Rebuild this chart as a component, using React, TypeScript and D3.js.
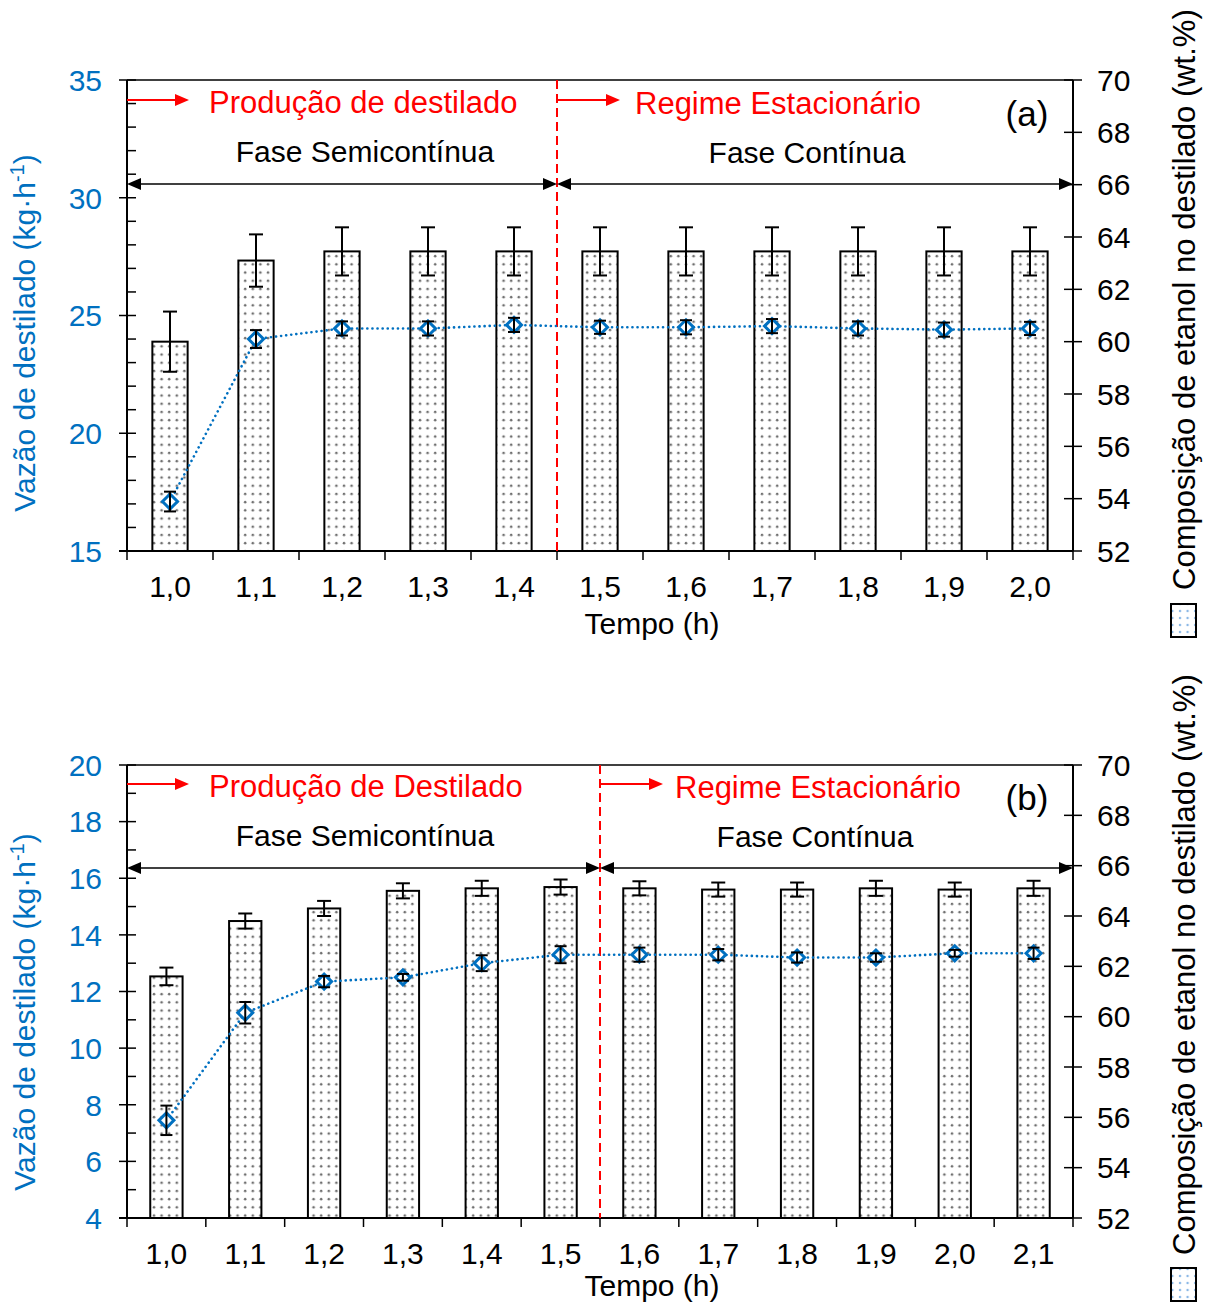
import React from "react";
import * as d3 from "d3";

// Panel (a)
const timesA = ["1,0", "1,1", "1,2", "1,3", "1,4", "1,5", "1,6", "1,7", "1,8", "1,9", "2,0"];
const compA = [60.0, 63.1, 63.45, 63.45, 63.45, 63.45, 63.45, 63.45, 63.45, 63.45, 63.45];
const compErrA = [1.15, 1.0, 0.92, 0.92, 0.92, 0.92, 0.92, 0.92, 0.92, 0.92, 0.92];
const flowA = [17.1, 24.0, 24.45, 24.45, 24.6, 24.5, 24.5, 24.55, 24.45, 24.4, 24.45];
const flowErrA = [0.42, 0.38, 0.3, 0.3, 0.3, 0.28, 0.3, 0.3, 0.3, 0.3, 0.28];
const leftTicksA = [15, 20, 25, 30, 35];

// Panel (b)
const timesB = ["1,0", "1,1", "1,2", "1,3", "1,4", "1,5", "1,6", "1,7", "1,8", "1,9", "2,0", "2,1"];
const compB = [61.6, 63.8, 64.3, 65.0, 65.1, 65.15, 65.1, 65.05, 65.05, 65.1, 65.05, 65.1];
const compErrB = [0.35, 0.3, 0.3, 0.3, 0.3, 0.3, 0.28, 0.28, 0.28, 0.3, 0.28, 0.3];
const flowB = [7.45, 11.25, 12.35, 12.5, 13.0, 13.3, 13.3, 13.3, 13.2, 13.2, 13.35, 13.35];
const flowErrB = [0.52, 0.38, 0.2, 0.12, 0.28, 0.3, 0.25, 0.2, 0.18, 0.15, 0.12, 0.2];
const leftTicksB = [4, 6, 8, 10, 12, 14, 16, 18, 20];

const rightTicks = [52, 54, 56, 58, 60, 62, 64, 66, 68, 70];

const BLUE = "#0070C0";
const RED = "#FF0000";
const FONT = "'Liberation Sans', Arial, Helvetica, sans-serif";

type PanelProps = {
  top: number;
  bottom: number;
  times: string[];
  comp: number[];
  compErr: number[];
  flow: number[];
  flowErr: number[];
  leftTicks: number[];
  leftDomain: [number, number];
  splitIndex: number;
  labels: {
    prod: string;
    tag: string;
    semiX: number;
    contX: number;
    regX: number;
    yTop: number;
    xTitleDy: number;
  };
};

const X0 = 127;
const X1 = 1073;

function Arrow({ x1, x2, y, color, w }: { x1: number; x2: number; y: number; color: string; w: number }) {
  const dir = Math.sign(x2 - x1);
  const hl = 14;
  const hw = 6;
  return (
    <g>
      <line x1={x1} x2={x2 - dir * hl} y1={y} y2={y} stroke={color} strokeWidth={w} />
      <path d={`M${x2},${y} L${x2 - dir * hl},${y - hw} L${x2 - dir * hl},${y + hw} Z`} fill={color} />
    </g>
  );
}

function DoubleArrow({ x1, x2, y }: { x1: number; x2: number; y: number }) {
  const hl = 14;
  const hw = 6;
  return (
    <g>
      <line x1={x1 + hl} x2={x2 - hl} y1={y} y2={y} stroke="#000" strokeWidth={1.3} />
      <path d={`M${x1},${y} L${x1 + hl},${y - hw} L${x1 + hl},${y + hw} Z`} fill="#000" />
      <path d={`M${x2},${y} L${x2 - hl},${y - hw} L${x2 - hl},${y + hw} Z`} fill="#000" />
    </g>
  );
}

function Panel(p: PanelProps) {
  const x = d3.scaleBand<string>().domain(p.times).range([X0, X1]).padding(0);
  const bw = x.bandwidth();
  const barW = bw * 0.41;
  const yL = d3.scaleLinear().domain(p.leftDomain).range([p.bottom, p.top]);
  const yR = d3.scaleLinear().domain([52, 70]).range([p.bottom, p.top]);
  const cx = (t: string) => (x(t) as number) + bw / 2;

  const minorL: number[] = [];
  for (let v = p.leftDomain[0]; v < p.leftDomain[1]; v += 1) {
    if (!p.leftTicks.includes(v)) minorL.push(v);
  }

  const line = d3
    .line<number>()
    .x((_, i) => cx(p.times[i]))
    .y((d) => yL(d));

  const splitX = X0 + bw * p.splitIndex;
  const boundaries = d3.range(p.times.length + 1).map((i) => X0 + bw * i);
  const L = p.labels;

  return (
    <g>
      {/* bars: ethanol composition, right axis */}
      {p.comp.map((v, i) => (
        <rect
          key={"b" + i}
          x={cx(p.times[i]) - barW / 2}
          y={yR(v)}
          width={barW}
          height={p.bottom - yR(v)}
          fill="url(#dots)"
          stroke="#000"
          strokeWidth={2}
        />
      ))}
      {p.comp.map((v, i) => {
        const c = cx(p.times[i]);
        const a = yR(v + p.compErr[i]);
        const b = yR(v - p.compErr[i]);
        return (
          <g key={"be" + i} stroke="#000" strokeWidth={2}>
            <line x1={c} x2={c} y1={a} y2={b} />
            <line x1={c - 7} x2={c + 7} y1={a} y2={a} />
            <line x1={c - 7} x2={c + 7} y1={b} y2={b} />
          </g>
        );
      })}

      {/* frame and axes */}
      <line x1={X0} x2={X1} y1={p.top} y2={p.top} stroke="#000" strokeWidth={1.5} />
      <line x1={X0} x2={X0} y1={p.top} y2={p.bottom} stroke="#000" strokeWidth={2} />
      <line x1={X1} x2={X1} y1={p.top} y2={p.bottom} stroke="#000" strokeWidth={2} />
      <line x1={X0 - 8} x2={X1} y1={p.bottom} y2={p.bottom} stroke="#000" strokeWidth={2} />
      {boundaries.map((b, i) => (
        <line key={"xt" + i} x1={b} x2={b} y1={p.bottom} y2={p.bottom + 9} stroke="#000" strokeWidth={1.5} />
      ))}
      {p.leftTicks.map((t) => (
        <g key={"lt" + t}>
          <line x1={X0 - 8} x2={X0 + 9} y1={yL(t)} y2={yL(t)} stroke="#000" strokeWidth={1.5} />
          <text x={X0 - 25} y={yL(t)} dy="0.36em" textAnchor="end" fill={BLUE} fontSize={30}>
            {t}
          </text>
        </g>
      ))}
      {minorL.map((t) => (
        <line key={"lm" + t} x1={X0} x2={X0 + 9} y1={yL(t)} y2={yL(t)} stroke="#000" strokeWidth={1.5} />
      ))}
      {rightTicks.map((t) => (
        <g key={"rt" + t}>
          <line x1={X1 - 9} x2={X1 + 9} y1={yR(t)} y2={yR(t)} stroke="#000" strokeWidth={1.5} />
          <text x={X1 + 24} y={yR(t)} dy="0.36em" textAnchor="start" fill="#000" fontSize={30}>
            {t}
          </text>
        </g>
      ))}
      {p.times.map((t) => (
        <text key={"xl" + t} x={cx(t)} y={p.bottom + 46} textAnchor="middle" fontSize={30} fill="#000">
          {t}
        </text>
      ))}
      <text x={652} y={p.bottom + L.xTitleDy} textAnchor="middle" fontSize={30} fill="#000">
        Tempo (h)
      </text>

      {/* phase split */}
      <line
        x1={splitX}
        x2={splitX}
        y1={p.top}
        y2={p.bottom}
        stroke={RED}
        strokeWidth={2}
        strokeDasharray="9,5"
      />
      <Arrow x1={X0} x2={X0 + 62} y={L.yTop + 20} color={RED} w={2} />
      <Arrow x1={splitX} x2={splitX + 63} y={L.yTop + 20} color={RED} w={2} />
      <text x={209} y={L.yTop + 33} fill={RED} fontSize={31}>
        {L.prod}
      </text>
      <text x={L.regX} y={L.yTop + 34} fill={RED} fontSize={31}>
        Regime Estacionário
      </text>
      <text x={L.semiX} y={L.yTop + 82} textAnchor="middle" fill="#000" fontSize={30}>
        Fase Semicontínua
      </text>
      <text x={L.contX} y={L.yTop + 83} textAnchor="middle" fill="#000" fontSize={30}>
        Fase Contínua
      </text>
      <text x={1027} y={L.yTop + 46} textAnchor="middle" fill="#000" fontSize={35}>
        {L.tag}
      </text>
      <DoubleArrow x1={X0} x2={splitX} y={L.yTop + 104} />
      <DoubleArrow x1={splitX} x2={X1} y={L.yTop + 104} />

      {/* distillate flow: dotted line with diamond markers, left axis */}
      <path
        d={line(p.flow) || ""}
        fill="none"
        stroke={BLUE}
        strokeWidth={2.6}
        strokeDasharray="0.1,5"
        strokeLinecap="round"
      />
      {p.flow.map((v, i) => {
        const c = cx(p.times[i]);
        const y = yL(v);
        const r = 7.5;
        return (
          <path
            key={"m" + i}
            d={`M${c},${y - r} L${c + r},${y} L${c},${y + r} L${c - r},${y} Z`}
            fill="#fff"
            stroke={BLUE}
            strokeWidth={3}
          />
        );
      })}
      {p.flow.map((v, i) => {
        const c = cx(p.times[i]);
        const a = yL(v + p.flowErr[i]);
        const b = yL(v - p.flowErr[i]);
        return (
          <g key={"fe" + i} stroke="#000" strokeWidth={2}>
            <line x1={c} x2={c} y1={a} y2={b} />
            <line x1={c - 6} x2={c + 6} y1={a} y2={a} />
            <line x1={c - 6} x2={c + 6} y1={b} y2={b} />
          </g>
        );
      })}
    </g>
  );
}

function AxisTitles({ leftCy, rightBottom, boxTop }: { leftCy: number; rightBottom: number; boxTop: number }) {
  return (
    <g>
      <text
        transform={`translate(35,${leftCy}) rotate(-90)`}
        textAnchor="middle"
        fill={BLUE}
        fontSize={30}
      >
        Vazão de destilado (kg·h
        <tspan dy={-11} fontSize={20}>
          -1
        </tspan>
        <tspan dy={11}>)</tspan>
      </text>
      <text
        transform={`translate(1195,${rightBottom}) rotate(-90)`}
        textAnchor="start"
        fill="#000"
        fontSize={31}
      >
        Composição de etanol no destilado (wt.%)
      </text>
      <rect x={1171} y={boxTop} width={25} height={33} fill="url(#dotsLegend)" stroke="#000" strokeWidth={2} />
    </g>
  );
}

export default function App() {
  return (
    <svg
      width={1210}
      height={1303}
      style={{ position: "absolute", left: 0, top: 0, background: "#fff" }}
      fontFamily={FONT}
    >
      <defs>
        <pattern id="dots" patternUnits="userSpaceOnUse" width={7.6} height={8.2}>
          <rect width={7.6} height={8.2} fill="#fff" />
          <circle cx={2} cy={2} r={1.3} fill="#6e6e6e" />
        </pattern>
        <pattern id="dotsLegend" patternUnits="userSpaceOnUse" width={7.6} height={7}>
          <rect width={7.6} height={7} fill="#fff" />
          <circle cx={2} cy={2} r={1.2} fill="#8ab8e6" />
        </pattern>
      </defs>
      <rect width={1210} height={1303} fill="#fff" />
      <Panel
        top={80}
        bottom={551}
        times={timesA}
        comp={compA}
        compErr={compErrA}
        flow={flowA}
        flowErr={flowErrA}
        leftTicks={leftTicksA}
        leftDomain={[15, 35]}
        splitIndex={5}
        labels={{ prod: "Produção de destilado", tag: "(a)", semiX: 365, contX: 807, regX: 635, yTop: 80, xTitleDy: 83 }}
      />
      <Panel
        top={765}
        bottom={1218}
        times={timesB}
        comp={compB}
        compErr={compErrB}
        flow={flowB}
        flowErr={flowErrB}
        leftTicks={leftTicksB}
        leftDomain={[4, 20]}
        splitIndex={6}
        labels={{ prod: "Produção de Destilado", tag: "(b)", semiX: 365, contX: 815, regX: 675, yTop: 764, xTitleDy: 78 }}
      />
      <AxisTitles leftCy={333} rightBottom={590} boxTop={604} />
      <AxisTitles leftCy={1012} rightBottom={1255} boxTop={1268} />
    </svg>
  );
}
